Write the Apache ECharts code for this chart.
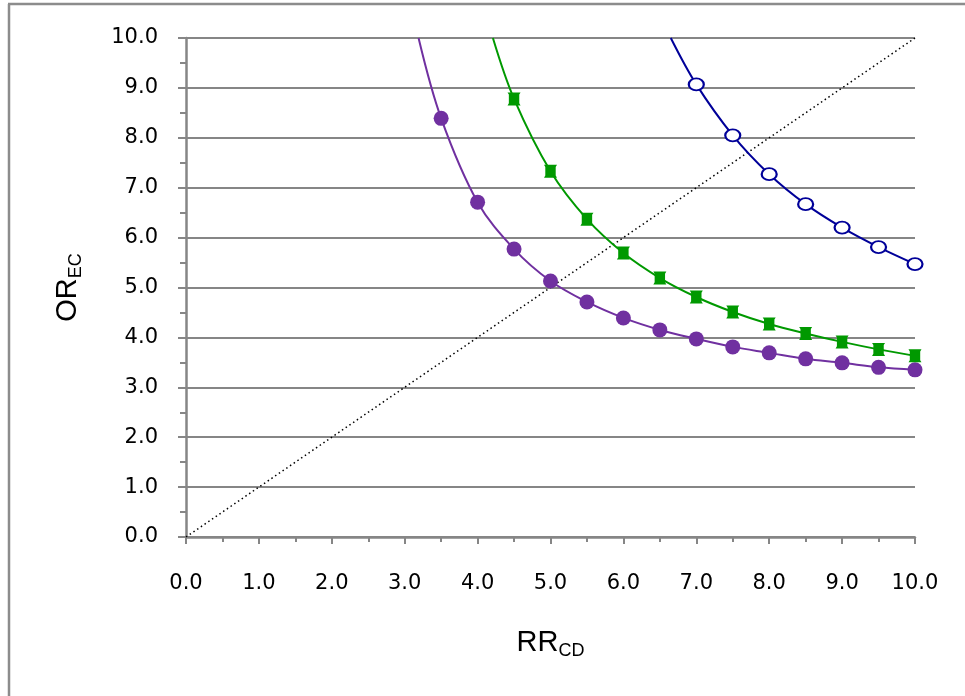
<!DOCTYPE html>
<html>
<head>
<meta charset="utf-8">
<script src="https://cdn.jsdelivr.net/npm/echarts@6/dist/echarts.min.js"></script>
<style>
html,body{margin:0;padding:0;background:#fff;}
#c{width:965px;height:696px;}
</style>
</head>
<body>
<div id="c"></div>
<script>
// Data
const xTicks = [0, 1, 2, 3, 4, 5, 6, 7, 8, 9, 10];
const yTicks = [0, 1, 2, 3, 4, 5, 6, 7, 8, 9, 10];

// purple filled circles
const purpleX = [3.5, 4.0, 4.5, 5.0, 5.5, 6.0, 6.5, 7.0, 7.5, 8.0, 8.5, 9.0, 9.5, 10.0];
const purpleY = [8.39, 6.71, 5.77, 5.13, 4.71, 4.39, 4.15, 3.97, 3.81, 3.69, 3.57, 3.49, 3.40, 3.35];
const purpleTop = [3.19, 10.0];   // where the curve leaves the top of the plot

// green squares
const greenX = [4.5, 5.0, 5.5, 6.0, 6.5, 7.0, 7.5, 8.0, 8.5, 9.0, 9.5, 10.0];
const greenY = [8.78, 7.33, 6.37, 5.69, 5.19, 4.81, 4.51, 4.27, 4.08, 3.91, 3.76, 3.63];
const greenTop = [4.21, 10.0];

// blue open circles
const blueX = [7.0, 7.5, 8.0, 8.5, 9.0, 9.5, 10.0];
const blueY = [9.07, 8.05, 7.27, 6.67, 6.20, 5.81, 5.47];
const blueTop = [6.65, 10.0];

// diagonal reference line
const diagX = [0, 10];
const diagY = [0, 10];

const purple = '#7030A0';
const green = '#009900';
const blue = '#000099';
const axisGray = '#868686';

function pairs(xs, ys) { return xs.map((x, i) => [x, ys[i]]); }

const chart = echarts.init(document.getElementById('c'), null, {renderer: 'canvas'});

const greenSymbol = 'path://M0,0 L12,0 L10.8,2 L10.8,10 L12,12 L0,12 L1.2,10 L1.2,2 Z';

const nameRich = {
  m: {fontFamily: 'Liberation Sans', fontSize: 29, color: '#000', verticalAlign: 'top'},
  s: {fontFamily: 'Liberation Sans', fontSize: 18, color: '#000', verticalAlign: 'top', padding: [14, 0, 0, 0]}
};

const option = {
  backgroundColor: '#fff',
  animation: false,
  grid: {left: 186, right: 50, top: 38, bottom: 159, containLabel: false},
  xAxis: {
    type: 'value', min: 0, max: 10, interval: 1,
    name: '{m|RR}{s|CD}',
    nameLocation: 'middle', nameGap: 91,
    nameTextStyle: {rich: nameRich},
    axisLine: {show: true, onZero: false, lineStyle: {color: axisGray, width: 2.5}},
    axisTick: {show: true, inside: false, length: 7, lineStyle: {color: axisGray, width: 2}},
    minorTick: {show: true, splitNumber: 2, length: 5, lineStyle: {color: axisGray, width: 2}},
    splitLine: {show: false},
    axisLabel: {
      margin: 36, fontFamily: 'DejaVu Sans', fontSize: 21, color: '#000',
      formatter: v => v.toFixed(1)
    }
  },
  yAxis: {
    type: 'value', min: 0, max: 10, interval: 1,
    name: '{m|OR}{s|EC}',
    nameLocation: 'middle', nameGap: 101,
    nameTextStyle: {rich: nameRich},
    axisLine: {show: true, onZero: false, lineStyle: {color: axisGray, width: 2.5}},
    axisTick: {show: true, inside: false, length: 8, lineStyle: {color: axisGray, width: 2}},
    minorTick: {show: true, splitNumber: 2, length: 6, lineStyle: {color: axisGray, width: 2}},
    splitLine: {show: true, lineStyle: {color: axisGray, width: 2}},
    axisLabel: {
      margin: 28, fontFamily: 'DejaVu Sans', fontSize: 21, color: '#000',
      padding: [8, 0, 0, 0],
      formatter: v => v.toFixed(1)
    }
  },
  graphic: [
    {type: 'line', shape: {x1: 9, y1: 4, x2: 9, y2: 696}, style: {stroke: '#8c8c8c', lineWidth: 2.5}, silent: true},
    {type: 'line', shape: {x1: 8, y1: 4, x2: 965, y2: 4}, style: {stroke: '#8c8c8c', lineWidth: 2.5}, silent: true}
  ],
  series: [
    {
      type: 'line', data: pairs(diagX, diagY), symbol: 'none',
      lineStyle: {color: '#000', width: 1.5, type: [1.5, 3]}, z: 1
    },
    {
      type: 'line', data: [purpleTop].concat(pairs(purpleX, purpleY)), symbol: 'none',
      smooth: 0.35, lineStyle: {color: purple, width: 2}, z: 2
    },
    {
      type: 'line', data: [greenTop].concat(pairs(greenX, greenY)), symbol: 'none',
      smooth: 0.35, lineStyle: {color: green, width: 2}, z: 2
    },
    {
      type: 'line', data: [blueTop].concat(pairs(blueX, blueY)), symbol: 'none',
      smooth: 0.35, lineStyle: {color: blue, width: 2}, z: 2
    },
    {
      type: 'scatter', data: pairs(purpleX, purpleY), symbol: 'circle', symbolSize: 15,
      itemStyle: {color: purple, opacity: 1}, z: 3
    },
    {
      type: 'scatter', data: pairs(greenX, greenY), symbol: greenSymbol, symbolSize: 13,
      itemStyle: {color: green, opacity: 1}, z: 3
    },
    {
      type: 'scatter', data: pairs(blueX, blueY), symbol: 'circle', symbolSize: [15, 12],
      itemStyle: {color: '#fff', borderColor: blue, borderWidth: 2, opacity: 1}, z: 3
    }
  ]
};
chart.setOption(option);
</script>
</body>
</html>
